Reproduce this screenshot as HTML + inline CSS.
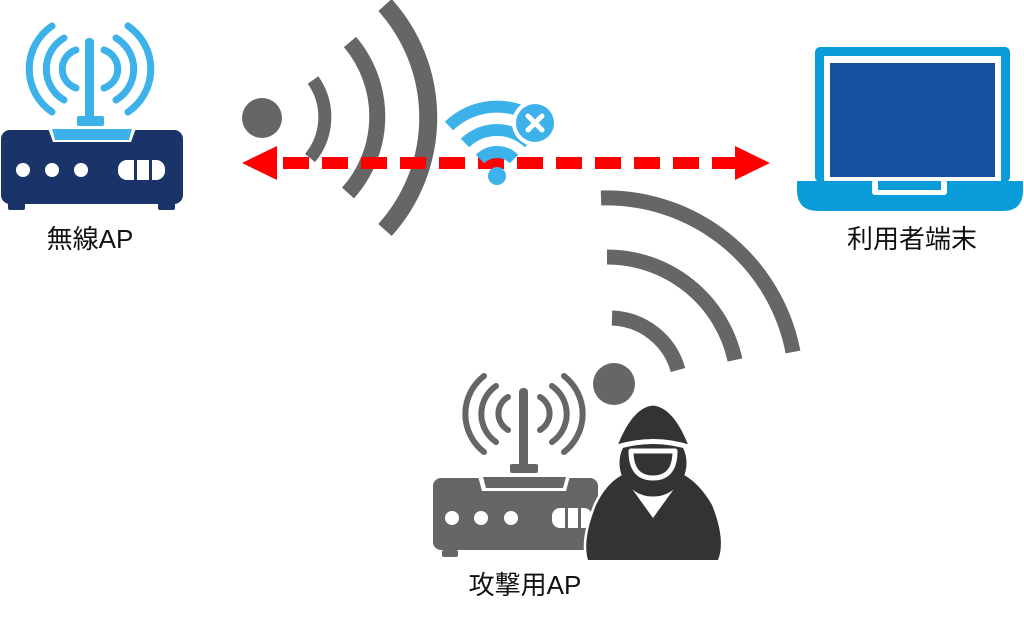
<!DOCTYPE html>
<html><head><meta charset="utf-8"><style>
html,body{margin:0;padding:0;background:#fff;width:1024px;height:625px;overflow:hidden}
svg{display:block}
text{font-family:"Liberation Sans","Noto Sans CJK JP",sans-serif;fill:#111}
</style></head><body>
<svg width="1024" height="625" viewBox="0 0 1024 625" xmlns="http://www.w3.org/2000/svg">
<!-- 無線AP -->
<g fill="none" stroke="#3db1ea" stroke-width="7" stroke-linecap="round">
<path d="M76 50 A20 20 0 0 0 76 88"/><path d="M104 50 A20 20 0 0 1 104 88"/>
<path d="M64 38 A36 36 0 0 0 64 100"/><path d="M116 38 A36 36 0 0 1 116 100"/>
<path d="M52 26 A52 52 0 0 0 52 112"/><path d="M128 26 A52 52 0 0 1 128 112"/>
</g>
<rect x="85" y="38" width="9" height="84" rx="4" fill="#3db1ea"/>
<rect x="77" y="116" width="27" height="10" rx="2" fill="#3db1ea"/>
<rect x="1" y="130" width="182" height="74" rx="9" fill="#1a3368"/>
<polygon points="48,128 136,128 131,142 53,142" fill="#fff"/>
<polygon points="52,129 132,129 129,140 55,140" fill="#3db1ea"/>
<circle cx="23" cy="170" r="7" fill="#fff"/><circle cx="52" cy="170" r="7" fill="#fff"/><circle cx="81" cy="170" r="7" fill="#fff"/>
<rect x="118" y="160" width="47" height="20" rx="9" fill="#fff"/>
<rect x="134" y="158" width="3" height="24" fill="#1a3368"/><rect x="149" y="158" width="3" height="24" fill="#1a3368"/>
<rect x="8" y="203" width="17" height="7" rx="2" fill="#1a3368"/><rect x="158" y="203" width="17" height="7" rx="2" fill="#1a3368"/>
<text x="90" y="248" font-size="26" text-anchor="middle">無線AP</text>

<!-- gray waves from AP -->
<circle cx="262" cy="118" r="20" fill="#666"/>
<g fill="none" stroke="#666" stroke-linecap="butt">
<path d="M313 80 A64 64 0 0 1 310 158" stroke-width="13"/>
<path d="M350 42 A115 115 0 0 1 348 193" stroke-width="16"/>
<path d="M385 5 A168 168 0 0 1 385 230" stroke-width="18"/>
</g>

<!-- red dashed arrow -->
<line x1="276" y1="163" x2="736" y2="163" stroke="#ff0000" stroke-width="12" stroke-dasharray="26 13" stroke-dashoffset="-7"/>
<polygon points="242,163 277,146 277,180" fill="#ff0000"/>
<polygon points="770,163 735,146 735,180" fill="#ff0000"/>

<!-- wifi-x icon -->
<g fill="none" stroke="#3db1ea" stroke-width="12">
<path d="M480 159 A24 24 0 0 1 514 159"/>
<path d="M465 143 A46 46 0 0 1 529 143"/>
<path d="M449 126 A69 69 0 0 1 545 126"/>
</g>
<circle cx="497" cy="176" r="9" fill="#3db1ea"/>
<circle cx="535" cy="123" r="23" fill="#fff"/>
<circle cx="535" cy="123" r="19" fill="#3db1ea"/>
<path d="M528 116 L542 130 M542 116 L528 130" stroke="#fff" stroke-width="5" stroke-linecap="round"/>

<!-- laptop -->
<rect x="815" y="47" width="195" height="135" rx="5" fill="#0a9cd8"/>
<rect x="824" y="56" width="177" height="126" fill="#fff"/>
<rect x="830" y="63" width="165" height="114" fill="#164fa0"/>
<path d="M797 181 H1023 V190 Q1023 211 1003 211 H818 Q797 211 797 190 Z" fill="#0a9cd8"/>
<rect x="872" y="180" width="75" height="15" rx="3" fill="#fff"/>
<rect x="878" y="181" width="63" height="9" fill="#0a9cd8"/>
<text x="912" y="248" font-size="26" text-anchor="middle">利用者端末</text>

<!-- attacker waves -->
<circle cx="614" cy="384" r="21" fill="#666"/>
<g fill="none" stroke="#666" stroke-width="15">
<path d="M612 318 A71 71 0 0 1 678 370"/>
<path d="M607 257 A131 131 0 0 1 735 360"/>
<path d="M601 198 A190 190 0 0 1 793 352"/>
</g>

<!-- attacker router -->
<g fill="none" stroke="#666" stroke-width="6" stroke-linecap="round">
<path d="M508 397 A19 19 0 0 0 508 430"/><path d="M540 397 A19 19 0 0 1 540 430"/>
<path d="M496 386 A34 34 0 0 0 496 442"/><path d="M552 386 A34 34 0 0 1 552 442"/>
<path d="M484 376 A48 48 0 0 0 484 452"/><path d="M564 376 A48 48 0 0 1 564 452"/>
</g>
<rect x="519" y="388" width="9" height="80" rx="4" fill="#666"/>
<rect x="510" y="464" width="28" height="9" rx="2" fill="#666"/>
<rect x="433" y="478" width="165" height="72" rx="8" fill="#666"/>
<polygon points="478,476 570,476 566,491 482,491" fill="#fff"/>
<polygon points="483,477 566,477 563,488 486,488" fill="#666"/>
<circle cx="452" cy="518" r="7" fill="#fff"/><circle cx="481" cy="518" r="7" fill="#fff"/><circle cx="511" cy="518" r="7" fill="#fff"/>
<rect x="552" y="508" width="40" height="20" rx="8" fill="#fff"/>
<rect x="565" y="506" width="3" height="24" fill="#666"/><rect x="578" y="506" width="3" height="24" fill="#666"/>
<rect x="442" y="550" width="16" height="7" rx="2" fill="#666"/>

<!-- hacker -->
<g stroke="#fff" stroke-width="5" stroke-linejoin="round">
<path d="M588 560 Q582 540 596 505 Q606 484 622 475 L653 518 L684 475 Q700 484 712 505 Q726 540 718 560 Z" fill="#333"/>
<circle cx="653" cy="463" r="36" fill="#333"/>
<path d="M614 448 Q630 405 653 403 Q676 405 692 448 Q653 435 614 448 Z" fill="#333"/>
<path d="M631 451 H675 Q675 478 653 478 Q631 478 631 451 Z" fill="#333"/>
</g>
<path d="M588 560 Q582 540 596 505 Q606 484 622 475 L653 518 L684 475 Q700 484 712 505 Q726 540 718 560 Z" fill="#333"/>
<text x="525" y="594" font-size="26" text-anchor="middle">攻撃用AP</text>
</svg>
</body></html>
